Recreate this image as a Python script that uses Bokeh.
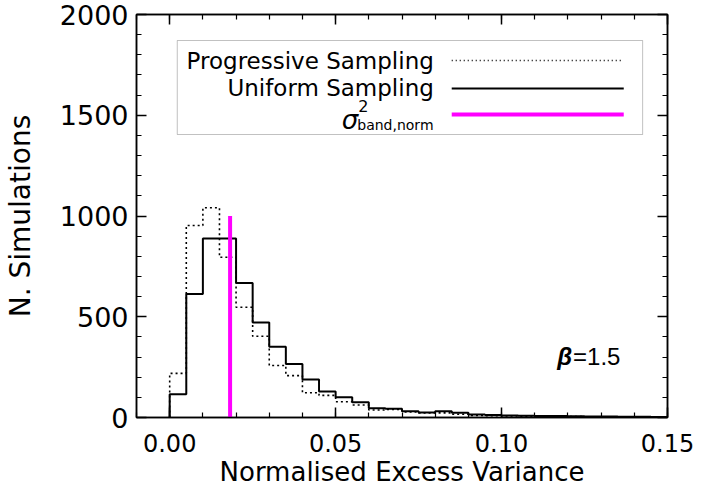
from bokeh.plotting import figure
from bokeh.models import (Range1d, LinearAxis, FixedTicker, NumeralTickFormatter,
                          CustomJSTickFormatter, Label, BoxAnnotation)
from bokeh.embed import file_html
from bokeh.resources import INLINE

# ---------------- data ----------------
bin_start = 0.0
bin_width = 0.005
uniform_counts = [115, 613, 888, 888, 668, 472, 351, 266, 188, 129,
                  100, 76, 46, 44, 31, 25, 31, 23, 15, 12,
                  10, 9, 8, 7, 6, 5, 5, 4, 4, 3]
progressive_counts = [219, 953, 1041, 795, 547, 403, 258, 208, 123, 110,
                      78, 62, 37, 40, 28, 23, 23, 16, 10, 9,
                      8, 7, 6, 5, 5, 4, 3, 3, 3, 2]
sigma_band_norm = 0.0182
sigma_height = 1000
x_major_ticks = [0.0, 0.05, 0.10, 0.15]
x_minor_ticks = [-0.01, 0.0, 0.01, 0.02, 0.03, 0.04, 0.05, 0.06, 0.07, 0.08,
                 0.09, 0.10, 0.11, 0.12, 0.13, 0.14, 0.15]
y_major_ticks = [0, 500, 1000, 1500, 2000]
y_minor_ticks = [0, 100, 200, 300, 400, 500, 600, 700, 800, 900, 1000,
                 1100, 1200, 1300, 1400, 1500, 1600, 1700, 1800, 1900, 2000]
x_label = "Normalised Excess Variance"
y_label = "N. Simulations"
legend_labels = ["Progressive Sampling", "Uniform Sampling"]
beta_text = "=1.5"

XR = (-0.01, 0.15)
YR = (0, 2000)

# frame geometry in pixels
W, H = 710, 494
FL, FR, FT, FB = 133, 667, 14, 417

def X(px):
    return XR[0] + (px - FL) / (FR - FL) * (XR[1] - XR[0])

def Y(py):
    return YR[0] + (FB - py) / (FB - FT) * (YR[1] - YR[0])

def step_xy(counts):
    edges = [bin_start + i * bin_width for i in range(len(counts) + 1)]
    xs, ys = [edges[0]], [0]
    for i, c in enumerate(counts):
        xs += [edges[i], edges[i + 1]]
        ys += [c, c]
    xs.append(edges[-1]); ys.append(0)
    return xs, ys

FONT = "DejaVu Sans"

p = figure(width=W, height=H, output_backend="svg", toolbar_location=None,
           x_range=Range1d(*XR), y_range=Range1d(*YR),
           min_border_left=FL, min_border_right=W - FR,
           min_border_top=FT, min_border_bottom=H - FB,
           x_axis_location=None, y_axis_location=None)
p.xgrid.visible = False
p.ygrid.visible = False
p.outline_line_color = "black"
p.outline_line_width = 1.5
p.background_fill_color = "white"
p.border_fill_color = "white"

def style_axis(ax):
    ax.axis_line_color = "black"
    ax.axis_line_width = 1.5
    ax.major_tick_line_color = "black"
    ax.minor_tick_line_color = "black"
    ax.major_tick_line_width = 1.5
    ax.minor_tick_line_width = 1.2
    ax.major_tick_in = 10
    ax.major_tick_out = 0
    ax.minor_tick_in = 5
    ax.minor_tick_out = 0
    ax.major_label_text_font = FONT
    ax.axis_label_text_font = FONT
    ax.axis_label_text_font_style = "normal"
    ax.axis_label_text_color = "black"
    ax.major_label_text_color = "black"

def xticker():
    return FixedTicker(ticks=x_major_ticks, minor_ticks=x_minor_ticks)

def yticker():
    return FixedTicker(ticks=y_major_ticks, minor_ticks=y_minor_ticks)

blank = CustomJSTickFormatter(code="return ''")

xb = LinearAxis(ticker=xticker(), formatter=NumeralTickFormatter(format="0.00"),
                axis_label=x_label)
style_axis(xb)
xb.major_label_text_font_size = "24px"
xb.major_label_standoff = 16
xb.axis_label_text_font_size = "26px"
xb.axis_label_standoff = 2
p.add_layout(xb, "below")

xt = LinearAxis(ticker=xticker(), formatter=blank)
style_axis(xt)
xt.major_label_standoff = 0
p.add_layout(xt, "above")

yl = LinearAxis(ticker=yticker(), axis_label=y_label)
style_axis(yl)
yl.major_label_text_font_size = "27px"
yl.axis_label_text_font_size = "28px"
yl.major_label_standoff = 8
yl.axis_label_standoff = 20
p.add_layout(yl, "left")

yr = LinearAxis(ticker=yticker(), formatter=blank)
style_axis(yr)
yr.major_label_standoff = 0
p.add_layout(yr, "right")

# histograms
px_, py_ = step_xy(progressive_counts)
p.line(px_, py_, line_color="black", line_width=1.6, line_dash="2 3")
ux_, uy_ = step_xy(uniform_counts)
p.line(ux_, uy_, line_color="black", line_width=2)
p.segment(x0=[sigma_band_norm], y0=[0], x1=[sigma_band_norm], y1=[sigma_height],
          line_color="#ff00ff", line_width=4)

# legend (manual, IDL style)
p.add_layout(BoxAnnotation(left=X(174), right=X(642), top=Y(40), bottom=Y(134),
                           fill_color=None, line_color="#333333", line_width=1))
p.line([X(450), X(623)], [Y(60), Y(60)], line_color="black", line_width=1.3, line_dash="1 3")
p.line([X(450), X(623)], [Y(88), Y(88)], line_color="black", line_width=2)
p.line([X(450), X(623)], [Y(114), Y(114)], line_color="#ff00ff", line_width=4)
for txt, py in zip(legend_labels, [60, 87]):
    p.add_layout(Label(x=X(432), y=Y(py), text=txt, text_align="right",
                       text_baseline="middle", text_font=FONT, text_font_size="23px",
                       text_color="black"))
p.add_layout(Label(x=X(356), y=Y(119), text="σ", text_align="right", text_baseline="middle",
                   text_font=FONT, text_font_size="26px", text_font_style="italic",
                   text_color="black"))
p.add_layout(Label(x=X(356), y=Y(105), text="2", text_align="left", text_baseline="middle",
                   text_font=FONT, text_font_size="16px", text_color="black"))
p.add_layout(Label(x=X(355), y=Y(124), text="band,norm", text_align="left",
                   text_baseline="middle", text_font=FONT, text_font_size="14px",
                   text_color="black"))

# beta annotation
p.add_layout(Label(x=X(571), y=Y(356), text="β", text_align="right", text_baseline="middle",
                   text_font="Liberation Sans", text_font_size="24px",
                   text_font_style="bold italic", text_color="black"))
p.add_layout(Label(x=X(572), y=Y(356), text=beta_text, text_align="left", text_baseline="middle",
                   text_font="Liberation Sans", text_font_size="24px", text_color="black"))

open("out.html", "w").write(file_html(p, INLINE))
